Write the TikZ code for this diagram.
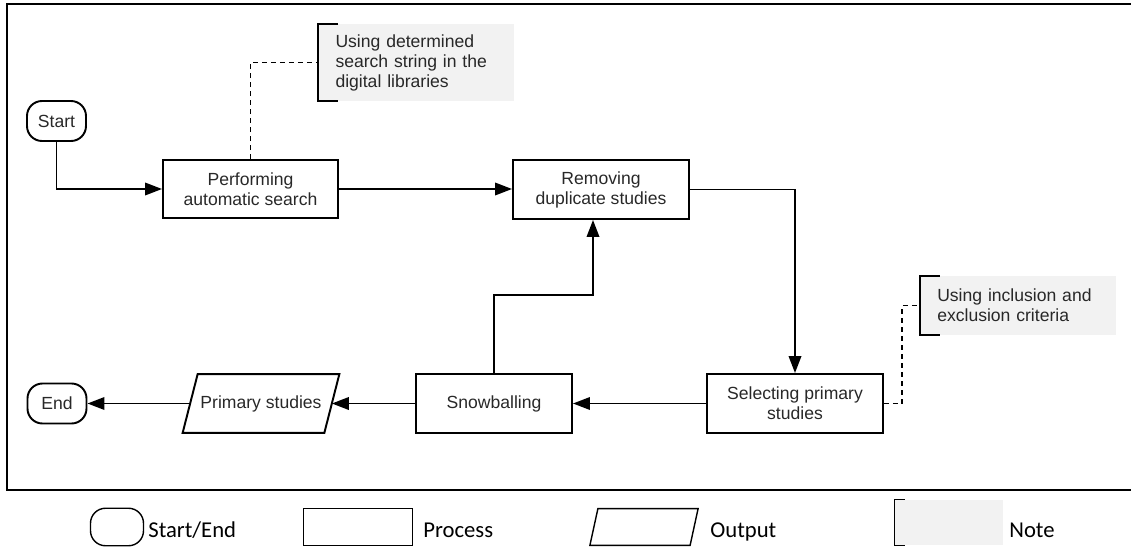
\documentclass[tikz,border=0pt]{standalone}
\usepackage{fontspec}
\setmainfont{Liberation Sans}
\newfontfamily\legendfont{Carlito}
\usetikzlibrary{positioning,shapes.geometric,arrows.meta,calc}
\definecolor{notegray}{RGB}{242,242,242}
\definecolor{inkgray}{RGB}{40,40,40}

\begin{document}
\begin{tikzpicture}[x=0.2mm,y=-0.2mm,
  every node/.style={font=\fontsize{10}{11.4}\selectfont, text=inkgray},
  process/.style={draw, rectangle, line width=1.1pt, align=center, inner sep=0pt},
  terminal/.style={draw, rectangle, rounded corners=3mm, line width=1.1pt, minimum width=11.8mm, minimum height=8mm, inner sep=0pt},
  outbox/.style={rectangle, inner sep=0pt},
  note/.style={fill=notegray, rectangle, align=left, inner xsep=3.4mm, inner ysep=0pt},
  arr/.style={-{Triangle[length=3.4mm,width=2.5mm]}, line width=1.1pt},
  link/.style={dashed, dash pattern=on 1mm off 0.8mm, line width=1.1pt},
  legend/.style={font=\legendfont\fontsize{12.9}{15}\selectfont, text=black, anchor=base west, inner sep=0pt}]
				\useasboundingbox (0,0) rectangle (1131,552);
				
				% Cornice
				\draw[line width=1.3pt] (1131,4) -- (7,4) -- (7,490) -- (1131,490);
				
				% Flusso
				\node[terminal] (start) at (56.5,121) {Start};
				\node[process, minimum width=35mm, minimum height=11.6mm] (search) at (250.5,189) {Performing\\automatic search};
				\node[process, minimum width=35.2mm, minimum height=11.8mm] (dupl) at (601,189.5) {Removing\\duplicate studies};
				\node[process, minimum width=35.2mm, minimum height=11.8mm] (select) at (795,403.5) {Selecting primary\\studies};
				\node[process, minimum width=31.2mm, minimum height=11.8mm] (snow) at (494,403.5) {Snowballing};
				\node[outbox, minimum width=28.2mm, minimum height=11.6mm] (primary) at (261,403.5) {Primary studies};
				\draw[line width=1.1pt] ([xshift=1.5mm]primary.north west) -- ([xshift=1.5mm]primary.north east)
					-- ([xshift=-1.5mm]primary.south east) -- ([xshift=-1.5mm]primary.south west) -- cycle;
				\node[terminal] (end) at (57,403.5) {End};
				
				\draw[arr] (start.south) |- (search.west);
				\draw[arr] (search.east) -- (search.east -| dupl.west);
				\draw[arr] (dupl.east) -| (select.north);
				\draw[arr] (select.west) -- (snow.east);
				\draw[arr] (snow.north) -- ++(0,-78) -| ([xshift=-1.6mm]dupl.south);
				\draw[arr] (snow.west) -- (primary.east);
				\draw[arr] (primary.west) -- (end.east);
				
				% Note
				\node[note, minimum width=39mm, minimum height=15.4mm, text width=32.2mm] (note1) at (416,62.5) {Using determined\\search string in the\\digital libraries};
				\draw[line width=1.1pt] ([xshift=4mm]note1.north west) -| (note1.south west) -- ++(4mm,0);
				\draw[link] (search.north) |- (note1.west);
				
				\node[note, minimum width=39.1mm, minimum height=11.8mm, text width=32.3mm] (note2) at (1018,305.5) {Using inclusion and\\exclusion criteria};
				\draw[line width=1.1pt] ([xshift=4mm]note2.north west) -| (note2.south west) -- ++(4mm,0);
				\draw[link] (select.east) -- ++(18,0) |- (note2.west);
				
				% Legenda
				\node[terminal, line width=0.8pt, minimum width=10.6mm, minimum height=7.5mm] (keyterm) at (117,527) {};
				\node[legend] (keytermtxt) at (148,537) {Start/End};
				\node[process, line width=0.8pt, minimum width=21.7mm, minimum height=7.5mm] (keyproc) at (358,527) {};
				\node[legend] (keyproctxt) at (423,537) {Process};
				\node[outbox, minimum width=19.9mm, minimum height=7.2mm] (keyout) at (644,527) {};
				\draw[line width=0.8pt] ([xshift=0.8mm]keyout.north west) -- ([xshift=0.8mm]keyout.north east)
					-- ([xshift=-0.8mm]keyout.south east) -- ([xshift=-0.8mm]keyout.south west) -- cycle;
				\node[legend] (keyouttxt) at (710,537) {Output};
				\node[note, minimum width=21.7mm, minimum height=9mm] (keynote) at (949,522.5) {};
				\draw[line width=0.8pt] ([xshift=2.1mm]keynote.north west) -| (keynote.south west) -- ++(2.1mm,0);
				\node[legend] (keynotetxt) at (1009,537) {Note};
			\end{tikzpicture}
\end{document}
